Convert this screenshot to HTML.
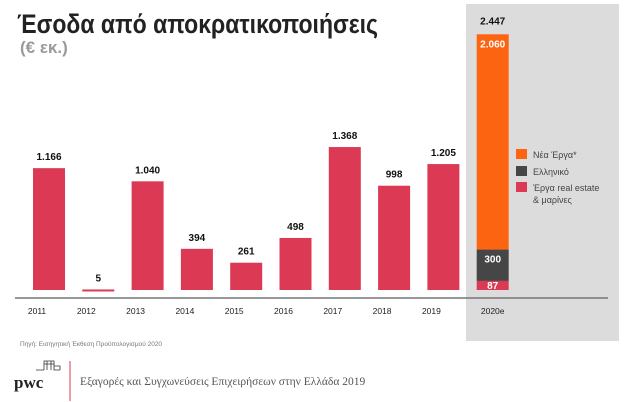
<!DOCTYPE html>
<html><head><meta charset="utf-8"><style>
html,body{margin:0;padding:0;background:#fff;}
svg{display:block;font-family:"Liberation Sans",Arial,sans-serif;}
</style></head><body>
<svg id="chart" width="634" height="402" viewBox="0 0 634 402" xmlns="http://www.w3.org/2000/svg">
<rect x="466" y="4" width="153" height="337" fill="#dcdcdc"/>
<text x="17" y="33" font-size="27" font-weight="bold" fill="#222" textLength="361" lengthAdjust="spacingAndGlyphs">Έσοδα από αποκρατικοποιήσεις</text>
<text x="20" y="53" font-size="17" font-weight="bold" fill="#9a9a9a">(€ εκ.)</text>
<line x1="15" y1="298" x2="608" y2="298" stroke="#777" stroke-width="1.5"/>
<g id="bars"></g>
<g>
<rect x="516" y="149" width="11" height="10" fill="#fd6411"/>
<text x="533" y="158" font-size="9" fill="#444">Νέα Έργα*</text>
<rect x="516" y="166" width="11" height="10" fill="#464646"/>
<text x="533" y="175" font-size="9" fill="#444">Ελληνικό</text>
<rect x="516" y="182" width="11" height="10" fill="#db3954"/>
<text x="533" y="191" font-size="9" fill="#444">Έργα real estate</text>
<text x="533" y="203" font-size="9" fill="#444">&amp; μαρίνες</text>
</g>
<text x="20" y="346" font-size="6.5" fill="#777">Πηγή: Εισηγητική Έκθεση Προϋπολογισμού 2020</text>
<g>
<path d="M36 370h8M44 370v-9h10v9h6M44 364h10M47 361v9M51 361v9M54 366h6v4" stroke="#333" stroke-width="0.8" fill="none"/>
<text x="14" y="388" font-family="Liberation Serif,serif" font-size="17" font-weight="bold" fill="#222">pwc</text>
</g>
<line x1="70" y1="361" x2="70" y2="401" stroke="#db3954" stroke-width="1"/>
<text x="80" y="385" font-family="Liberation Serif,serif" font-size="11.5" fill="#555">Εξαγορές και Συγχωνεύσεις Επιχειρήσεων στην Ελλάδα 2019</text>
</svg>
<script>
const categories = ["2011","2012","2013","2014","2015","2016","2017","2018","2019","2020e"];
const realEstate = [1166,5,1040,394,261,498,1368,998,1205,87];
const elliniko = [0,0,0,0,0,0,0,0,0,300];
const newProjects = [0,0,0,0,0,0,0,0,0,2060];
const valueLabels = ["1.166","5","1.040","394","261","498","1.368","998","1.205","2.447"];
const segmentLabels = ["87","300","2.060"];

const NS="http://www.w3.org/2000/svg";
const baseY=290, k=0.1045, x0=49, step=49.3, bw=32;
const xC=i=>x0+i*step;
const yS=v=>baseY-v*k;
const g=document.getElementById('bars');
function mk(tag,attrs){const e=document.createElementNS(NS,tag);for(const a in attrs)e.setAttribute(a,attrs[a]);g.appendChild(e);return e;}
categories.forEach((c,i)=>{
  const cx=xC(i);
  const segs=[[realEstate[i],'#db3954'],[elliniko[i],'#464646'],[newProjects[i],'#fd6411']];
  let acc=0;
  segs.forEach((s,j)=>{
    if(s[0]<=0)return;
    const r=mk('rect',{x:cx-bw/2,y:yS(acc+s[0]),width:bw,height:Math.max(s[0]*k,2),fill:s[1]});
    
    
    const stacked=elliniko[i]+newProjects[i]>0;
    if(stacked){
      const t=mk('text',{x:cx,y:yS(acc)-(s[0]*k>15?0:0)+(j===0?-1:0),'text-anchor':'middle','font-size':'10','font-weight':'bold',fill:'#fff'});
      t.setAttribute('y', j===0? yS(acc)-1 : (j===1? yS(acc+s[0])+13 : yS(acc+s[0])+13));
      t.textContent=segmentLabels[j];
      
      
    }
    acc+=s[0];
  });
  const total=realEstate[i]+elliniko[i]+newProjects[i];
  const t=mk('text',{x:cx,y:yS(total)-(i===9?10:8),'text-anchor':'middle','font-size':'10','font-weight':'bold',fill:'#111'});
  t.textContent=valueLabels[i];
  
  
  const lx = i===9? cx : cx-12;
  const l=mk('text',{x:lx,y:314,'text-anchor':'middle','font-size':'8.5',fill:'#222'});
  l.textContent=c;
  
  
});
</script>
</body></html>
